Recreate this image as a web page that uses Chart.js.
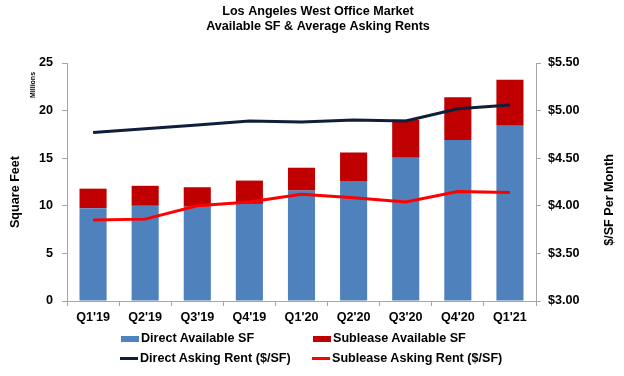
<!DOCTYPE html>
<html>
<head>
<meta charset="utf-8">
<script src="https://cdn.jsdelivr.net/npm/chart.js@4/dist/chart.umd.min.js"></script>
<style>
  html, body { margin: 0; padding: 0; background: #fff; }
  #wrap { position: relative; width: 624px; height: 376px; }
  #legend { position: absolute; left: 0; top: 330px; width: 624px; font: bold 12.6px "Liberation Sans", Arial, sans-serif; color: #000; }
  .row { position: absolute; height: 16px; line-height: 16px; white-space: nowrap; }
  .mk { display: inline-block; vertical-align: middle; margin-right: 2px; }
</style>
</head>
<body>
<div id="wrap">
  <canvas id="c" width="624" height="376"></canvas>
  <div id="legend"></div>
</div>
<script>
/* LA West office market: available SF + asking rents */
const quarters = ["Q1'19", "Q2'19", "Q3'19", "Q4'19", "Q1'20", "Q2'20", "Q3'20", "Q4'20", "Q1'21"];
const directSF = [9.75, 10.0, 9.9, 10.2, 11.6, 12.6, 15.05, 16.9, 18.4];
const subleaseSF = [2.05, 2.1, 2.05, 2.45, 2.4, 3.0, 4.0, 4.5, 4.85];
const directRent = [4.77, 4.81, 4.85, 4.89, 4.88, 4.90, 4.89, 5.02, 5.06];
const subleaseRent = [3.85, 3.86, 4.0, 4.04, 4.12, 4.085, 4.04, 4.15, 4.14];
const titleLines = ["Los Angeles West Office Market", "Available SF & Average Asking Rents"];

const FONT = "'Liberation Sans', Arial, sans-serif";
const FS = 12.6;
const C = { direct: "#4F81BD", sublease: "#C00000", dRent: "#0F1E3A", sRent: "#FF0000", axis: "#A6A6A6" };

// legend in html, laid out as 2x2 like the original
const legendItems = [
  { label: "Direct Available SF", kind: "box", color: C.direct, x: 121, y: 0 },
  { label: "Sublease Available SF", kind: "box", color: C.sublease, x: 313, y: 0 },
  { label: "Direct Asking Rent ($/SF)", kind: "line", color: C.dRent, x: 120, y: 20 },
  { label: "Sublease Asking Rent ($/SF)", kind: "line", color: C.sRent, x: 312, y: 20 },
];
const legendEl = document.getElementById("legend");
legendItems.forEach((it) => {
  const d = document.createElement("div");
  d.className = "row";
  d.style.left = it.x + "px";
  d.style.top = it.y + "px";
  const h = it.kind === "box" ? 6 : 3;
  d.innerHTML = `<span class="mk" style="width:18px;height:${h}px;background:${it.color}"></span>${it.label}`;
  legendEl.appendChild(d);
});

// titles and axis captions drawn on the canvas
const textPlugin = {
  id: "texts",
  afterDraw(chart) {
    const ctx = chart.ctx;
    ctx.save();
    ctx.fillStyle = "#000";
    ctx.textAlign = "center";
    ctx.textBaseline = "middle";
    ctx.font = `bold ${FS}px ${FONT}`;
    ctx.fillText(titleLines[0], 318, 12);
    ctx.fillText(titleLines[1], 318, 27);

    const rot = (txt, x, y, font) => {
      ctx.save();
      ctx.translate(x, y);
      ctx.rotate(-Math.PI / 2);
      ctx.font = font;
      ctx.fillText(txt, 0, 0);
      ctx.restore();
    };
    rot("Square Feet", 16, 192, `bold ${FS}px ${FONT}`);
    rot("Millions", 33, 85, "bold 7px " + FONT);
    rot("$/SF Per Month", 610, 200, `bold ${FS}px ${FONT}`);
    ctx.restore();
  },
};

const tickFont = { family: FONT, size: FS, weight: "bold" };

new Chart(document.getElementById("c"), {
  type: "bar",
  data: {
    labels: quarters,
    datasets: [
      { type: "line", label: "Direct Asking Rent ($/SF)", data: directRent, yAxisID: "y1", borderColor: C.dRent, borderWidth: 3, pointRadius: 0, tension: 0, order: 0 },
      { type: "line", label: "Sublease Asking Rent ($/SF)", data: subleaseRent, yAxisID: "y1", borderColor: C.sRent, borderWidth: 3, pointRadius: 0, tension: 0, order: 0 },
      { label: "Direct Available SF", data: directSF, yAxisID: "y", backgroundColor: C.direct, stack: "sf", order: 1, categoryPercentage: 1, barPercentage: 0.52 },
      { label: "Sublease Available SF", data: subleaseSF, yAxisID: "y", backgroundColor: C.sublease, stack: "sf", order: 1, categoryPercentage: 1, barPercentage: 0.52 },
    ],
  },
  options: {
    responsive: false,
    animation: false,
    layout: { padding: { top: 63 } },
    plugins: { legend: { display: false }, title: { display: false }, tooltip: { enabled: false } },
    scales: {
      x: {
        stacked: true,
        grid: { display: true, drawOnChartArea: false, offset: true, tickLength: 5, color: C.axis },
        border: { color: C.axis },
        ticks: { color: "#000", font: tickFont, padding: 4, maxRotation: 0 },
        afterFit: (s) => { s.height = 75; },
      },
      y: {
        position: "left",
        stacked: true,
        min: 0,
        max: 25,
        grid: { drawOnChartArea: false, tickLength: 5, color: C.axis },
        border: { color: C.axis },
        ticks: { stepSize: 5, color: "#000", font: tickFont, padding: 9 },
        afterFit: (s) => { s.width = 67; },
      },
      y1: {
        position: "right",
        min: 3,
        max: 5.5,
        grid: { drawOnChartArea: false, tickLength: 5, color: C.axis },
        border: { color: C.axis },
        ticks: { stepSize: 0.5, color: "#000", font: tickFont, padding: 7, callback: (v) => "$" + Number(v).toFixed(2) },
        afterFit: (s) => { s.width = 88; },
      },
    },
  },
  plugins: [textPlugin],
});
</script>
</body>
</html>
